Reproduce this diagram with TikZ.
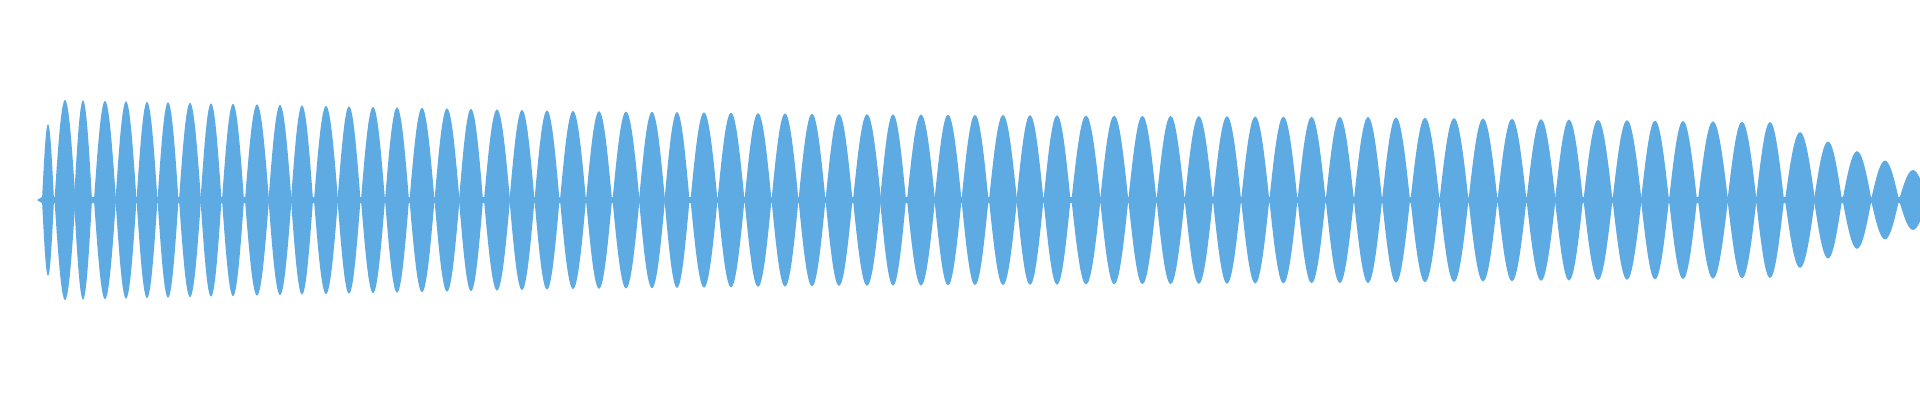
\documentclass[tikz,border=0pt]{standalone}
\definecolor{wave}{RGB}{93,171,226}
\begin{document}
\begin{tikzpicture}[x=1pt,y=-1pt]
\useasboundingbox (0,0) rectangle (1920,400);
\clip (0,0) rectangle (1920,400);
% thin baseline band
\fill[wave] (37,200) -- (42,197) -- (1920,197) -- (1920,203) -- (42,203) -- cycle;
% first small lobe
\fill[wave] (42,200) sin (48,124) cos (54,200) sin (48,276) cos (42,200);
\foreach \c [remember=\c as \prev (initially 44)] in {65,83,105,126,147,168,190,211,233,257,280,302,326,349,373,397,422,447,471,497,522,547,573,599,626,652,677,704,731,758,785,812,839,867,893,921,948,975,1003,1030,1057,1086,1114.2,1142.4,1170.6,1198.8,1227,1255.2,1283.4,1311.6,1339.8,1368,1396,1425,1454,1483,1512,1541,1569,1598,1627,1655,1683,1713,1742,1770,1800,1828,1857,1885,1913}{
  \pgfmathsetmacro\A{\c<280 ? 100-0.02326*(\c-65) : (\c<570 ? 95-0.02069*(\c-280) : (\c<840 ? 89-0.01111*(\c-570) : (\c<1370 ? 86-0.00566*(\c-840) : (\c<1770 ? 83-0.0125*(\c-1370) : 78-0.3357*(\c-1770)))))}
  \pgfmathsetmacro\h{(\c-\prev)/2}
  \pgfmathsetmacro\xl{\c-\h}
  \pgfmathsetmacro\xr{\c+\h}
  \fill[wave] (\xl,200) sin (\c,200-\A) cos (\xr,200) sin (\c,200+\A) cos (\xl,200);
}
\end{tikzpicture}
\end{document}
